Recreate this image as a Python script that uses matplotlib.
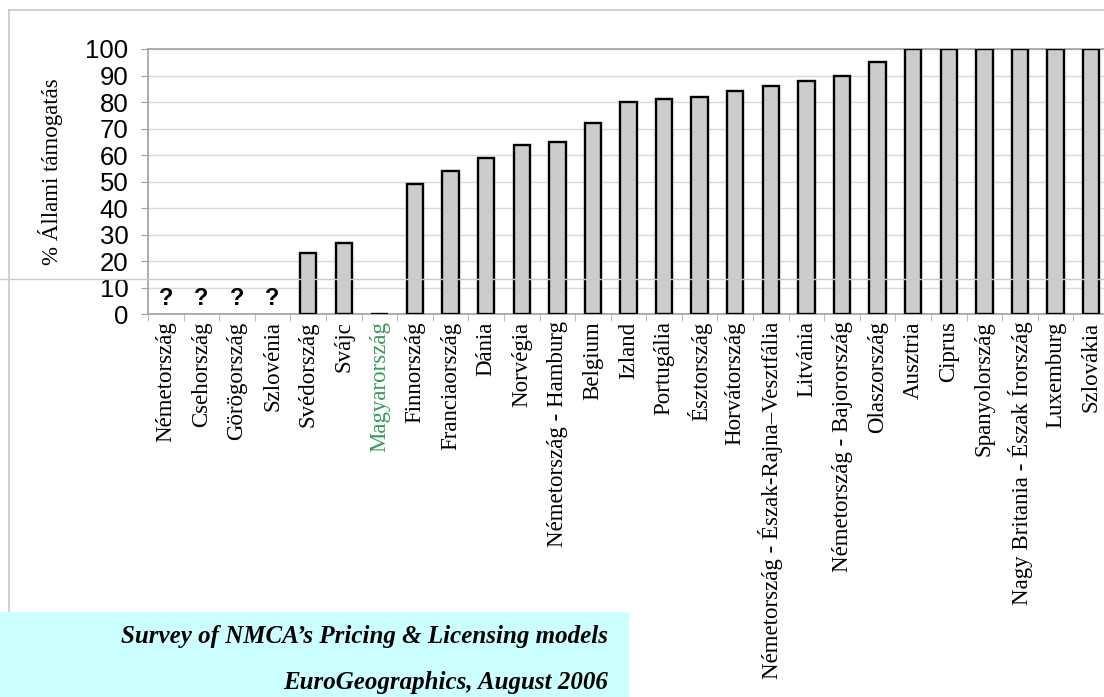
import matplotlib.pyplot as plt
import numpy as np

orszagok = ['Németország', 'Csehország', 'Görögország', 'Szlovénia', 'Svédország',
            'Svájc', 'Magyarország', 'Finnország', 'Franciaország', 'Dánia',
            'Norvégia', 'Németország - Hamburg', 'Belgium', 'Izland', 'Portugália',
            'Észtország', 'Horvátország', 'Németország - Észak-Rajna–Vesztfália',
            'Litvánia', 'Németország - Bajorország', 'Olaszország', 'Ausztria',
            'Ciprus', 'Spanyolország', 'Nagy Britania - Észak Írország',
            'Luxemburg', 'Szlovákia']
# nan = nincs adat (kérdőjel jelzi)
tamogatas = [np.nan, np.nan, np.nan, np.nan, 23, 27, 0, 49, 54, 59, 64, 65, 72, 80,
             81, 82, 84, 86, 88, 90, 95, 100, 100, 100, 100, 100, 100]
ismeretlen = ['Németország', 'Csehország', 'Görögország', 'Szlovénia']
kiemelt = 'Magyarország'
yticks = list(range(0, 101, 10))

W, H = 1104, 697
fig = plt.figure(figsize=(W / 100, H / 100), dpi=100)

# keret vonalak a dia hátteréből
fig.add_artist(plt.Line2D([9 / W, 1], [1 - 10 / H, 1 - 10 / H], color='#c8c8c8', lw=1.2))
fig.add_artist(plt.Line2D([9 / W, 9 / W], [1 - 10 / H, 0], color='#c8c8c8', lw=1.2))

ax = fig.add_axes([148 / W, 1 - 314.5 / H, (1109 - 148) / W, (314.5 - 49) / H])
x = np.arange(len(orszagok))
ax.bar(x, tamogatas, width=0.46, color='#cccccc', edgecolor='black', linewidth=1.7,
       zorder=3)

for nev in ismeretlen:
    i = orszagok.index(nev)
    ax.text(i, 6, '?', ha='center', va='center', fontsize=17, fontweight='bold',
            family='Liberation Sans', zorder=4)

ax.set_xlim(-0.5, len(orszagok) - 0.5)
ax.set_ylim(0, 100)
ax.set_yticks(yticks)
ax.set_yticklabels([str(t) for t in yticks], family='Liberation Sans', fontsize=18.5)
ax.tick_params(axis='y', length=5, color='#a0a0a0', pad=9)
ax.grid(axis='y', color='#d9d9d9', lw=1, zorder=0)

ax.set_xticks(x)
ax.set_xticklabels(orszagok, rotation=90, family='Liberation Serif', fontsize=16.5,
                   va='top', ha='center')
ax.tick_params(axis='x', length=0, pad=5)
ax.set_xticks(np.arange(len(orszagok) + 1) - 0.5, minor=True)
ax.tick_params(axis='x', which='minor', length=5, color='#b0b0b0')
for lbl in ax.get_xticklabels():
    if lbl.get_text() == kiemelt:
        lbl.set_color('#3a9a5a')

for s in ax.spines.values():
    s.set_color('#a0a0a0')
    s.set_linewidth(1.2)

fig.text(51 / W, 1 - 172 / H, '% Állami támogatás', rotation=90, ha='center',
         va='center', family='Liberation Serif', fontsize=16.5)

# vízszintes segédvonal a háttérben
fig.add_artist(plt.Line2D([0, 1], [1 - 279 / H, 1 - 279 / H], color='#c8c8d0', lw=1,
                          zorder=0.5))

# forrás doboz
fig.patches.append(plt.Rectangle((0, 0), 629 / W, 1 - 612 / H, transform=fig.transFigure,
                                 facecolor='#ccffff', edgecolor='none', zorder=5))
fig.text(608 / W, 1 - 636 / H, 'Survey of NMCA’s Pricing & Licensing models', ha='right',
         va='center', family='Liberation Serif', style='italic', fontweight='bold',
         fontsize=18, zorder=6)
fig.text(608 / W, 1 - 683 / H, 'EuroGeographics, August 2006', ha='right',
         va='center', family='Liberation Serif', style='italic', fontweight='bold',
         fontsize=18, zorder=6)

fig.savefig('out.png', dpi=100)
